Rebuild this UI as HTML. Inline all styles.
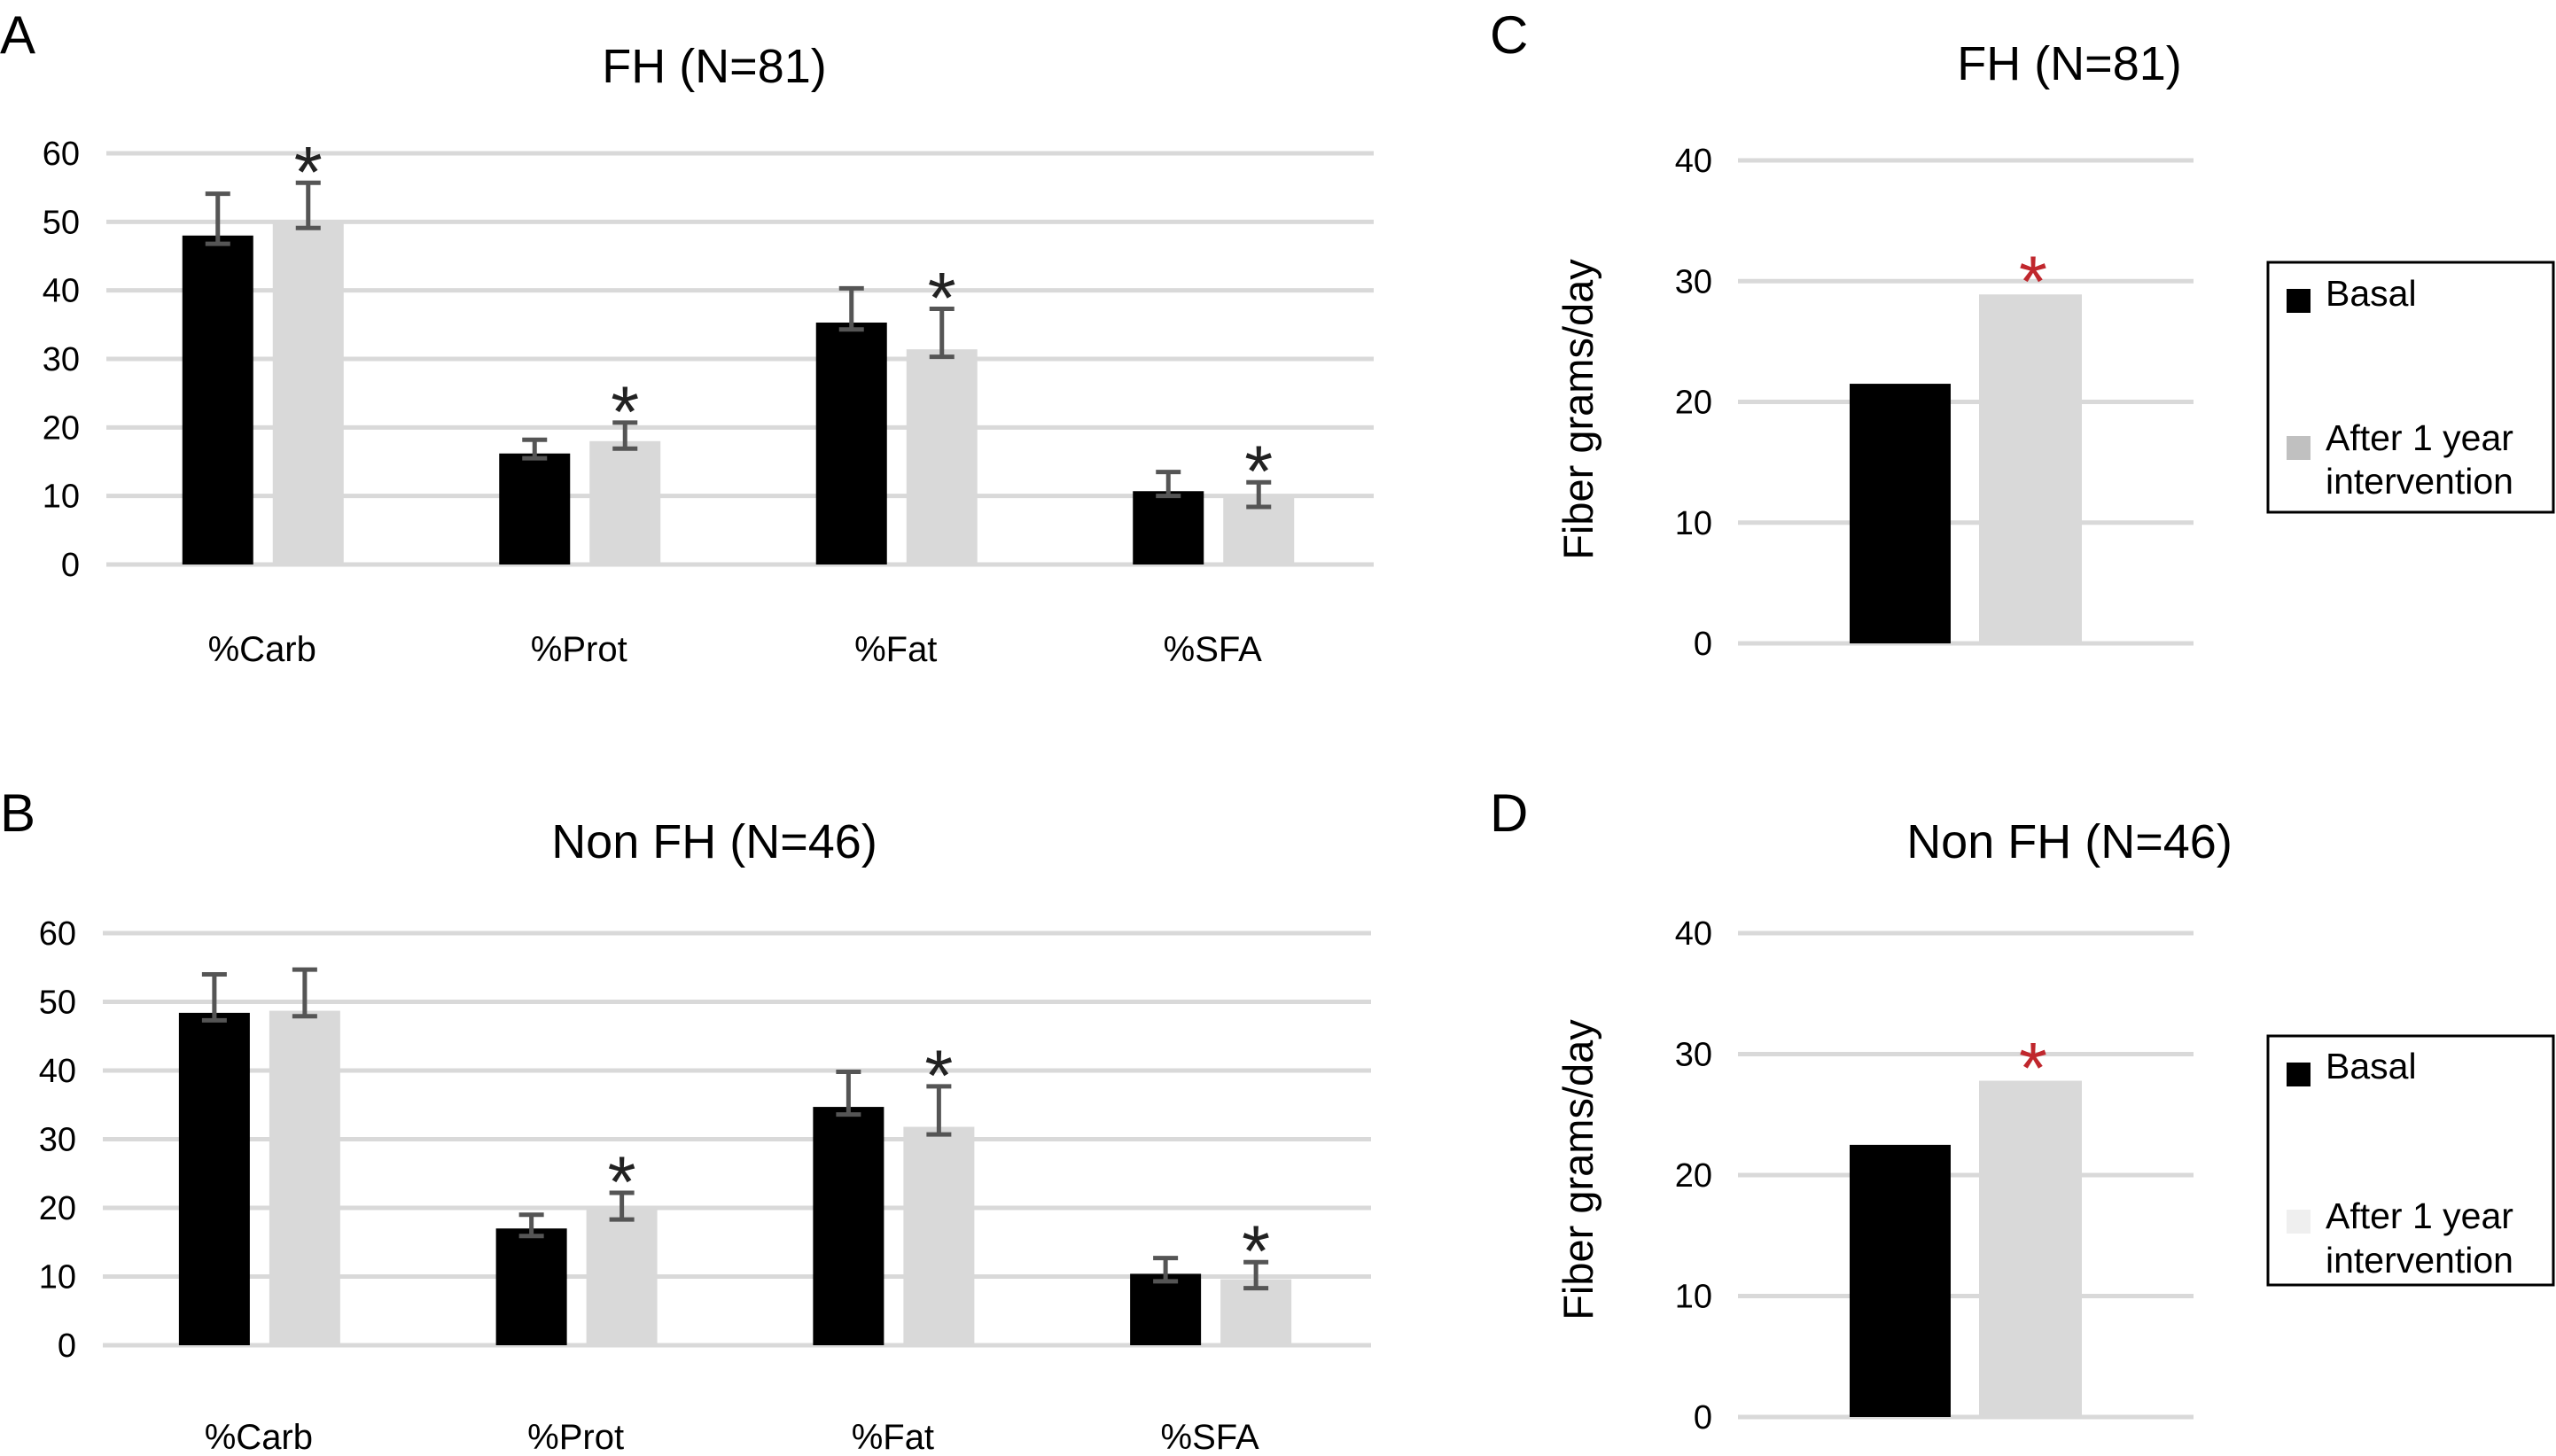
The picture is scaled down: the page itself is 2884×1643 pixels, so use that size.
<!DOCTYPE html>
<html><head><meta charset="utf-8"><style>
html,body{margin:0;padding:0;background:#fff;}
svg{display:block;font-family:"Liberation Sans",sans-serif;}
</style></head><body>
<svg id="fig" width="2884" height="1643" viewBox="0 0 2884 1643" xmlns="http://www.w3.org/2000/svg">
<rect width="2884" height="1643" fill="#fff"/>
<text x="0" y="60" font-size="60">A</text>
<text x="0" y="938" font-size="60">B</text>
<text x="1681" y="60" font-size="60">C</text>
<text x="1681" y="938" font-size="60">D</text>
<text x="806" y="93" font-size="54" text-anchor="middle">FH (N=81)</text>
<text x="806" y="968" font-size="54" text-anchor="middle">Non FH (N=46)</text>
<text x="2335" y="90" font-size="54" text-anchor="middle">FH (N=81)</text>
<text x="2335" y="968" font-size="54" text-anchor="middle">Non FH (N=46)</text>
<text transform="translate(1797,462) rotate(-90)" font-size="47" text-anchor="middle">Fiber grams/day</text>
<text transform="translate(1797,1320) rotate(-90)" font-size="47" text-anchor="middle">Fiber grams/day</text>
<g>
<rect x="2559" y="296" width="322" height="282" fill="#fff" stroke="#000" stroke-width="3"/>
<rect x="2580" y="326" width="27" height="27" fill="#000"/>
<text x="2624" y="345" font-size="41">Basal</text>
<rect x="2580" y="492" width="27" height="27" fill="#c0c0c0"/>
<text x="2624" y="508" font-size="41">After 1 year</text>
<text x="2624" y="557" font-size="41">intervention</text>
</g>
<g>
<rect x="2559" y="1169" width="322" height="281" fill="#fff" stroke="#000" stroke-width="3"/>
<rect x="2580" y="1199" width="27" height="27" fill="#000"/>
<text x="2624" y="1217" font-size="41">Basal</text>
<rect x="2580" y="1365" width="27" height="27" fill="#efefef"/>
<text x="2624" y="1386" font-size="41">After 1 year</text>
<text x="2624" y="1436" font-size="41">intervention</text>
</g>
</svg>
<script>
const categories = ["%Carb","%Prot","%Fat","%SFA"];
const macroTicks = [0,10,20,30,40,50,60];
const fhBasal = [48.0,16.2,35.3,10.7];
const fhAfter = [49.9,18.0,31.4,9.8];
const fhBasalHi = [54.1,18.2,40.3,13.5];
const fhBasalLo = [46.8,15.5,34.3,10.0];
const fhAfterHi = [55.7,20.7,37.3,12.0];
const fhAfterLo = [49.1,16.9,30.3,8.4];
const fhSig = [true,true,true,true];
const nonBasal = [48.4,17.0,34.7,10.4];
const nonAfter = [48.7,19.8,31.8,9.6];
const nonBasalHi = [54.0,19.0,39.8,12.7];
const nonBasalLo = [47.3,15.9,33.6,9.3];
const nonAfterHi = [54.7,22.2,37.7,12.1];
const nonAfterLo = [47.9,18.3,30.7,8.3];
const nonSig = [false,true,true,true];
const fiberTicks = [0,10,20,30,40];
const fiberFH = [21.5,28.9];
const fiberNon = [22.5,27.8];

const NS="http://www.w3.org/2000/svg";
const svg=document.getElementById('fig');
function mk(tag,attrs){const e=document.createElementNS(NS,tag);for(const k in attrs)e.setAttribute(k,attrs[k]);svg.appendChild(e);return e;}

function macroPanel(key,x0,x1,y0,yTop,basal,after,bHi,bLo,aHi,aLo,sig,catY){
  const ys=v=>y0-(v/60)*(y0-yTop);
  const band=(x1-x0)/categories.length;
  macroTicks.forEach(t=>{
    const g=mk('line',{x1:x0,x2:x1,y1:ys(t),y2:ys(t),stroke:'#d9d9d9','stroke-width':5});
    
    
    const tx=mk('text',{x:x0-30,y:ys(t)+13,'font-size':38,'text-anchor':'end'});
    tx.textContent=t;
    
    
  });
  categories.forEach((c,i)=>{
    const cx=x0+band*(i+0.5);
    const b=mk('rect',{x:cx-93,y:ys(basal[i]),width:80,height:ys(0)-ys(basal[i]),fill:'#000'});
    
    
    const a=mk('rect',{x:cx+9,y:ys(after[i]),width:80,height:ys(0)-ys(after[i]),fill:'#d9d9d9'});
    
    
    [[cx-53,bHi[i],bLo[i],'basal'],[cx+49,aHi[i],aLo[i],'after']].forEach(([ex,hi,lo,s])=>{
      const p=mk('path',{d:`M${ex},${ys(hi)}V${ys(lo)}M${ex-14},${ys(hi)}H${ex+14}M${ex-14},${ys(lo)}H${ex+14}`,stroke:'#555','stroke-width':5,fill:'none'});
      
      
    });
    if(sig[i]){
      const st=mk('text',{x:cx+49,y:ys(aHi[i])+16,'font-size':82,'text-anchor':'middle',fill:'#222'});
      st.textContent='*';
      
      
    }
    const lt=mk('text',{x:cx-3,y:catY,'font-size':40,'text-anchor':'middle'});
    lt.textContent=c;
    
    
  });
}
macroPanel('a',120,1550,637,173,fhBasal,fhAfter,fhBasalHi,fhBasalLo,fhAfterHi,fhAfterLo,fhSig,746);
macroPanel('b',116,1547,1518,1053,nonBasal,nonAfter,nonBasalHi,nonBasalLo,nonAfterHi,nonAfterLo,nonSig,1635);

function fiberPanel(key,x0,x1,y0,yTop,vals){
  const ys=v=>y0-(v/40)*(y0-yTop);
  fiberTicks.forEach(t=>{
    const g=mk('line',{x1:x0,x2:x1,y1:ys(t),y2:ys(t),stroke:'#d9d9d9','stroke-width':5});
    
    
    const tx=mk('text',{x:1932,y:ys(t)+13,'font-size':38,'text-anchor':'end'});
    tx.textContent=t;
    
    
  });
  const cx=(x0+x1)/2;
  const b=mk('rect',{x:cx-131,y:ys(vals[0]),width:114,height:ys(0)-ys(vals[0]),fill:'#000'});
  
  
  const a=mk('rect',{x:cx+15,y:ys(vals[1]),width:116,height:ys(0)-ys(vals[1]),fill:'#d9d9d9'});
  
  
  const st=mk('text',{x:cx+76,y:ys(vals[1])+14,'font-size':82,'text-anchor':'middle',fill:'#c0272d'});
  st.textContent='*';
  
  
}
fiberPanel('c',1961,2475,726,181,fiberFH);
fiberPanel('d',1961,2475,1599,1053,fiberNon);
</script>
</body></html>
